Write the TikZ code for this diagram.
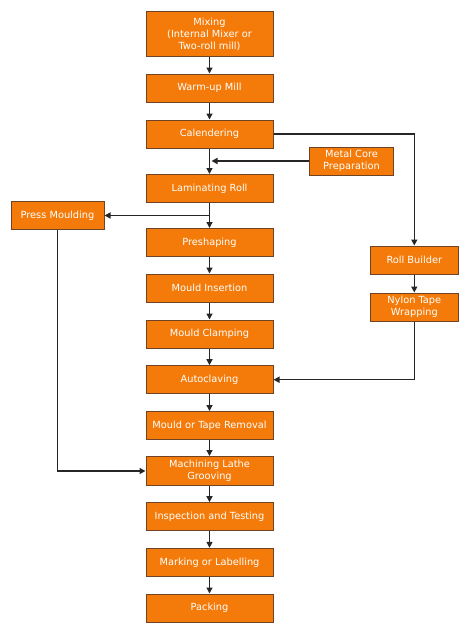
\documentclass[tikz,border=0pt]{standalone}
\usepackage{fontspec}
\setmainfont{DejaVu Sans}
\usepackage{xcolor}
\usetikzlibrary{arrows.meta}

\definecolor{boxfill}{HTML}{F47B0A}
\definecolor{boxline}{HTML}{6E4424}
\definecolor{wireline}{HTML}{262626}

\tikzset{
  stepbox/.style={draw=boxline, fill=boxfill, line width=1pt, text=white,
    font=\fontsize{9.8}{11.7}\selectfont, align=center, inner sep=0pt,
    minimum width=127pt, minimum height=28pt},
  sidebox/.style={stepbox, minimum width=88pt},
  wire/.style={draw=wireline, line width=1.4pt,
    -{Triangle[width=6pt,length=6pt]}}
}

\begin{document}
\begin{tikzpicture}[x=1pt, y=-1pt]
\useasboundingbox (0,0) rectangle (474,634);

\def\mainx{209.5}

% main line
\node[stepbox, minimum height=45pt] (mix) at (\mainx,34.5) {Mixing\\(Internal Mixer or\\Two-roll mill)};
\node[stepbox] (warm) at (\mainx,88) {Warm-up Mill};
\node[stepbox] (cal) at (\mainx,134) {Calendering};
\node[stepbox] (lam) at (\mainx,188.5) {Laminating Roll};
\node[stepbox] (pre) at (\mainx,242.5) {Preshaping};
\node[stepbox] (ins) at (\mainx,288) {Mould Insertion};
\node[stepbox] (clamp) at (\mainx,334) {Mould Clamping};
\node[stepbox] (auto) at (\mainx,379.7) {Autoclaving};
\node[stepbox] (rem) at (\mainx,425.5) {Mould or Tape Removal};
\node[stepbox, minimum height=29pt] (mach) at (\mainx,471) {Machining Lathe\\Grooving};
\node[stepbox] (insp) at (\mainx,516.7) {Inspection and Testing};
\node[stepbox] (mark) at (\mainx,562.3) {Marking or Labelling};
\node[stepbox] (pack) at (\mainx,608) {Packing};

% side branches
\node[sidebox, minimum width=93pt] (press) at (57.5,215.5) {Press Moulding};
\node[sidebox, minimum width=84pt] (core) at (351.5,161) {Metal Core\\Preparation};
\node[sidebox] (roll) at (414.3,260) {Roll Builder};
\node[sidebox] (nylon) at (414.3,307) {Nylon Tape\\Wrapping};

\foreach \a/\b in {mix/warm, warm/cal, cal/lam, lam/pre, pre/ins, ins/clamp,
  clamp/auto, auto/rem, rem/mach, mach/insp, insp/mark, mark/pack}
  \draw[wire] (\a.south) -- (\b.north);

\coordinate (coreend) at ([xshift=2pt]core.west -| cal.south);
\draw[wire] (core.west) -- (coreend);
\draw[wire] (lam.south |- press.east) -- (press.east);
\draw[wire] (press.south) |- (mach.west);
\draw[wire] (cal.east) -| (roll.north);
\draw[wire] (roll.south) -- (nylon.north);
\draw[wire] (nylon.south) |- (auto.east);

\end{tikzpicture}
\end{document}
